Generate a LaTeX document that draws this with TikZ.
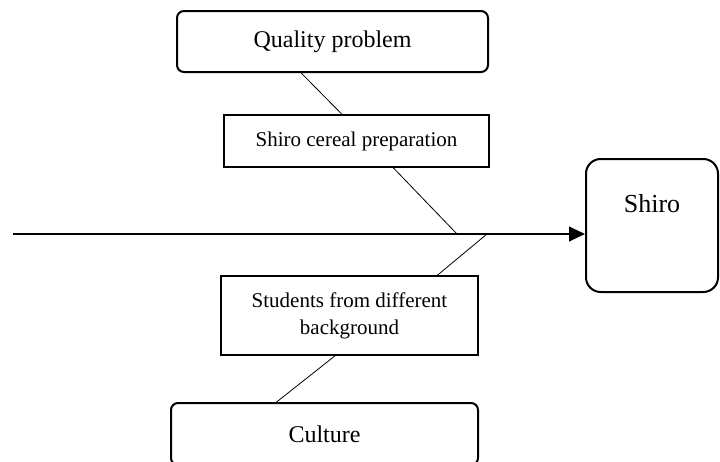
\documentclass[tikz,border=0pt]{standalone}
\usepackage{fontspec}
\setmainfont{Liberation Serif}
\usetikzlibrary{arrows.meta,calc}

\begin{document}
\begin{tikzpicture}[x=0.75pt,y=-0.75pt,
        causebox/.style={draw,rounded corners=5.25pt,line width=1.5pt,inner sep=0pt,
            font=\fontsize{18}{21.6}\selectfont},
        subbox/.style={draw,line width=1.2pt,inner sep=0pt,align=center,
            font=\fontsize{15.75}{20.25}\selectfont},
        twig/.style={line width=0.6pt}]
        \useasboundingbox (0,0) rectangle (720,461);

        \node[causebox,minimum width=233.25pt,minimum height=45.75pt] (qual) at (332.5,41.5) {Quality problem};
        \node[subbox,minimum width=198.75pt,minimum height=39pt] (cereal) at (356.5,141) {Shiro cereal preparation};
        \node[subbox,minimum width=192.75pt,minimum height=59.25pt] (students) at (349.5,315.5) {Students from different\\background};
        \node[causebox,minimum width=230.25pt,minimum height=46.5pt] (culture) at (324.5,434) {Culture};
        \node[draw,rounded corners=11pt,line width=1.5pt,minimum width=99pt,minimum height=99.75pt,
            label={[anchor=center,yshift=-34pt,font=\fontsize{19.5}{23}\selectfont]north:Shiro}] (shiro) at (652,225.5) {};

        % spine
        \coordinate (tail) at (13,234);
        \coordinate (j1) at (457,234);
        \coordinate (j2) at (487,234);
        \draw[line width=1.5pt,-{Triangle[length=12pt,width=11pt]}] (tail) -- (tail -| shiro.west);

        % upper branch
        \draw[twig] ($(qual.south west)!0.40!(qual.south east)$) -- ($(cereal.north west)!0.445!(cereal.north east)$);
        \draw[twig] ($(cereal.south west)!0.638!(cereal.south east)$) -- (j1);

        % lower branch
        \draw[twig] (j2) -- ($(students.north west)!0.84!(students.north east)$);
        \draw[twig] ($(students.south west)!0.444!(students.south east)$) -- ($(culture.north west)!0.345!(culture.north east)$);
\end{tikzpicture}
\end{document}
